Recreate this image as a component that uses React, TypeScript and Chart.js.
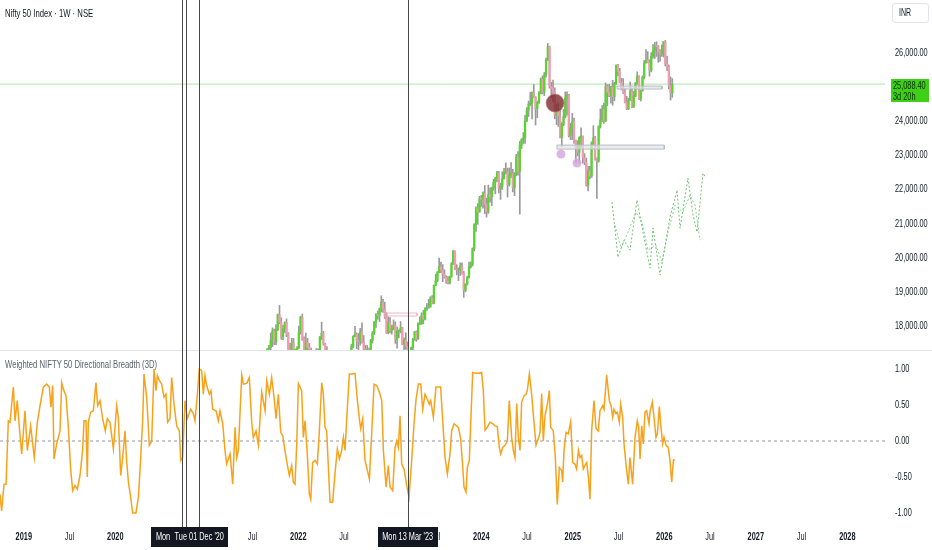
import { useEffect, useRef } from "react";
import { Chart, registerables } from "chart.js";
Chart.register(...registerables);

const FONT = "'Liberation Sans', Arial, sans-serif";
const NARROW = 0.7;

// x domain (fractional years)
const X_MIN = 2018.74;
const X_MAX = 2028.412;

// ---- Weekly candles (Nifty 50), first week starts Mon 23 Aug 2021 ----
const FIRST_WEEK = Date.UTC(2021, 7, 23);
const firstOpen = 16450;
const closes2021 = [16705, 17324, 17369, 17585, 17853, 17532, 17895, 18339, 18115, 17672, 17917, 18102, 17765, 17026, 17197, 17511, 16985, 17003, 17354];
const highs2021 = [16722, 17340, 17436, 17793, 17947, 17912, 18042, 18350, 18604, 18242, 18022, 18123, 18210, 17806, 17490, 17640, 17639, 17119, 17400];
const lows2021 = [16395, 16700, 17254, 17270, 17397, 17452, 17452, 17865, 18065, 17613, 17600, 17807, 17688, 16985, 16782, 17150, 16966, 16410, 16880];

const closes2022 = [17813, 18256, 17617, 17102, 17516, 17375, 17276, 16658, 16245, 16630, 17287, 17153, 17670, 17784, 17476, 17172, 17102, 16411, 15782, 16266, 16352, 16584, 16202, 15293, 15699, 15752, 16220, 16049, 16719, 17158, 17398, 17698, 17758, 17559, 17539, 17833, 17531, 17327, 17094, 17315, 17186, 17576, 17787, 18117, 18350, 18308, 18512, 18697, 18497, 18269, 17807, 18105];
const highs2022 = [18000, 18286, 18350, 17680, 17794, 17640, 17490, 17350, 16810, 16760, 17340, 17330, 17700, 18114, 17840, 17500, 17400, 17130, 16460, 16400, 16420, 16800, 16650, 16240, 15710, 15930, 16280, 16250, 16750, 17170, 17470, 17720, 17990, 17800, 17780, 17930, 18096, 17720, 17430, 17430, 17350, 17610, 17840, 18130, 18360, 18440, 18530, 18887, 18780, 18700, 18390, 18270];
const lows2022 = [17340, 17760, 17580, 16840, 17050, 16810, 16840, 16200, 15900, 15670, 16560, 16840, 17000, 17600, 17440, 16920, 16890, 16340, 15740, 15730, 15900, 16300, 16170, 15180, 15190, 15510, 15660, 15860, 16000, 16440, 17150, 17360, 17690, 17340, 17170, 17440, 17500, 17290, 16750, 16860, 16950, 17120, 17500, 17750, 17960, 18200, 18130, 18410, 18400, 18220, 17780, 17770];

const closes2023 = [17859, 17956, 18028, 17604, 17854, 17856, 17944, 17466, 17594, 17413, 17100, 16945, 17360, 17600, 17828, 17624, 18065, 18069, 18315, 18203, 18499, 18534, 18563, 18826, 18665, 19189, 19332, 19565, 19745, 19646, 19517, 19428, 19310, 19266, 19435, 19820, 20192, 19674, 19638, 19654, 19751, 19543, 19047, 19231, 19425, 19732, 19795, 20268, 20970, 21457, 21349, 21731];
const highs2023 = [18250, 18020, 18180, 18120, 17970, 17880, 18130, 17960, 17650, 17800, 17530, 17210, 17380, 17640, 17840, 17860, 18090, 18270, 18390, 18460, 18540, 18660, 18780, 18860, 18890, 19200, 19520, 19600, 19990, 19870, 19800, 19650, 19470, 19450, 19460, 19860, 20220, 20200, 19800, 19700, 19850, 19850, 19600, 19240, 19460, 19870, 19880, 20290, 21000, 21490, 21590, 21800];
const lows2023 = [17800, 17760, 17890, 17490, 17350, 17660, 17800, 17450, 17250, 17320, 16850, 16830, 16830, 17310, 17580, 17550, 17610, 18040, 18050, 18060, 18180, 18460, 18520, 18550, 18650, 18650, 19180, 19300, 19560, 19560, 19300, 19400, 19250, 19230, 19230, 19430, 19800, 19650, 19500, 19330, 19480, 19520, 18840, 19000, 19200, 19400, 19700, 19760, 20200, 20770, 20980, 21330];

const closes2024 = [21711, 21895, 21572, 21353, 21854, 21783, 22041, 22213, 22339, 22494, 22023, 22097, 22327, 22514, 22519, 22147, 22420, 22476, 22055, 22467, 22957, 22531, 23290, 23466, 23501, 24011, 24324, 24502, 24531, 24835, 24718, 24367, 24541, 24823, 25236, 24852, 25357, 25791, 26179, 25015, 24964, 24854, 24181, 24304, 24148, 23533, 23907, 24131, 24677, 24768, 23588, 23813];
const highs2024 = [21830, 21930, 22120, 21750, 22130, 22050, 22070, 22300, 22350, 22530, 22530, 22180, 22520, 22620, 22780, 22630, 22630, 22790, 22590, 22500, 23030, 23110, 23410, 23490, 23670, 24170, 24400, 24590, 24850, 24860, 25080, 24720, 24590, 24870, 25270, 25330, 25430, 25850, 26280, 26200, 25140, 25210, 24980, 24500, 24540, 24340, 23960, 24350, 24860, 24860, 24790, 23940];
const lows2024 = [21500, 21450, 21290, 21190, 21300, 21630, 21530, 21980, 21870, 22230, 21900, 21710, 22000, 22300, 22450, 21780, 22100, 22350, 21930, 21820, 22400, 22420, 21280, 23200, 23350, 23350, 23990, 24140, 24460, 24070, 24700, 23890, 24100, 24520, 24800, 24800, 24750, 25290, 25780, 24970, 24690, 24570, 24070, 23900, 23850, 23510, 23260, 23870, 24100, 24180, 23540, 23460];

const closes2025 = [24005, 23432, 23203, 23092, 23508, 23560, 22929, 22796, 22125, 22553, 22397, 23350, 23519, 22904, 22829, 23852, 24039, 24347, 24008, 25020, 24853, 24751, 25003, 24718, 25112, 25637, 25461, 25150, 24968, 24837, 24565, 24363, 24631, 24870, 24427, 24741, 25114, 25327, 24655, 24894, 25285, 25710, 25795, 25722, 25492, 25910, 26068, 26203, 26186, 26047, 25966, 26042];
const highs2025 = [24230, 24090, 23450, 23430, 23550, 23810, 23570, 23050, 22920, 22680, 22680, 23400, 23870, 23560, 22930, 23870, 24360, 24460, 24530, 25120, 25070, 25080, 25030, 25200, 25140, 25650, 25670, 25550, 25260, 25250, 24960, 24730, 24680, 25150, 24980, 24880, 25140, 25450, 25330, 24910, 25330, 25780, 26100, 26040, 25800, 26010, 26250, 26310, 26330, 26220, 26100, 26240];
const lows2025 = [23460, 23350, 22790, 22980, 22790, 23220, 22770, 22720, 22100, 21960, 22310, 22350, 23300, 22860, 21740, 22800, 23800, 23990, 23940, 23990, 24460, 24720, 24530, 24470, 24600, 25080, 25330, 25130, 24920, 24810, 24540, 24340, 24340, 24600, 24400, 24400, 24720, 25080, 24630, 24590, 24880, 25240, 25700, 25710, 25320, 25450, 25850, 25840, 25900, 25730, 25750, 25900];

const closes2026 = [26330, 25680, 25590, 25050, 24830, 25088];
const highs2026 = [26340, 26370, 25900, 25650, 25300, 25250];
const lows2026 = [25880, 25620, 25480, 24950, 24620, 24700];

const LAST_PRICE = 25088.4;

// ---- Weighted breadth oscillator [fractional year, value] ----
const breadth2019_21: [number, number][] = [[2018.740,-0.74],[2018.758,-0.97],[2018.784,-0.60],[2018.806,-0.60],[2018.831,0.28],[2018.849,0.26],[2018.886,0.75],[2018.904,0.28],[2018.929,0.56],[2018.951,0.19],[2018.977,-0.18],[2019.013,0.42],[2019.039,-0.13],[2019.075,0.21],[2019.115,-0.23],[2019.148,0.26],[2019.184,0.54],[2019.214,0.75],[2019.250,0.79],[2019.279,0.75],[2019.297,0.47],[2019.316,0.77],[2019.330,-0.25],[2019.359,-0.04],[2019.396,0.14],[2019.414,0.81],[2019.432,0.72],[2019.461,0.63],[2019.487,0.19],[2019.512,-0.39],[2019.534,-0.69],[2019.560,-0.62],[2019.585,-0.67],[2019.614,-0.48],[2019.643,-0.13],[2019.658,0.28],[2019.680,0.28],[2019.694,-0.50],[2019.705,0.26],[2019.731,0.40],[2019.760,0.42],[2019.789,0.81],[2019.807,0.49],[2019.833,0.56],[2019.862,0.31],[2019.891,0.14],[2019.913,0.31],[2019.942,0.26],[2019.979,-0.11],[2020.015,0.49],[2020.033,0.33],[2020.059,-0.48],[2020.081,-0.23],[2020.106,0.14],[2020.124,-0.27],[2020.143,-0.57],[2020.168,-0.78],[2020.190,-1.00],[2020.226,-1.00],[2020.252,-0.78],[2020.270,-0.41],[2020.299,0.28],[2020.314,0.93],[2020.343,0.61],[2020.372,-0.06],[2020.398,0.00],[2020.423,1.00],[2020.445,0.70],[2020.460,0.91],[2020.481,0.84],[2020.507,0.79],[2020.532,0.61],[2020.554,0.65],[2020.572,0.26],[2020.598,0.31],[2020.616,0.88],[2020.642,0.51],[2020.671,0.21],[2020.700,0.14],[2020.715,-0.27],[2020.736,-0.23],[2020.762,0.56],[2020.787,0.31],[2020.824,0.44],[2020.853,0.38],[2020.871,0.28],[2020.897,0.65],[2020.918,1.00],[2020.944,0.98],[2020.962,0.65],[2020.980,0.91],[2020.999,0.77],[2021.028,0.65],[2021.046,0.70],[2021.064,0.44],[2021.101,0.42],[2021.126,0.28],[2021.144,0.42],[2021.174,0.24],[2021.199,-0.13],[2021.217,-0.32],[2021.254,-0.18],[2021.283,-0.60]];
const breadth2021_23: [number, number][] = [[2021.309,0.19],[2021.327,-0.23],[2021.345,-0.13],[2021.382,0.92],[2021.400,0.79],[2021.436,0.80],[2021.465,0.88],[2021.491,0.26],[2021.509,0.05],[2021.538,0.14],[2021.564,-0.06],[2021.600,0.68],[2021.637,0.42],[2021.655,0.84],[2021.684,0.65],[2021.709,0.88],[2021.735,0.61],[2021.757,0.31],[2021.782,0.65],[2021.808,0.12],[2021.830,0.07],[2021.866,-0.23],[2021.902,-0.48],[2021.928,-0.34],[2021.946,-0.57],[2021.964,-0.60],[2021.983,-0.04],[2022.001,0.80],[2022.037,0.70],[2022.055,0.05],[2022.074,0.28],[2022.099,-0.20],[2022.121,-0.74],[2022.136,-0.81],[2022.157,-0.30],[2022.183,-0.27],[2022.208,-0.32],[2022.230,0.14],[2022.256,0.81],[2022.274,0.65],[2022.292,0.19],[2022.310,0.14],[2022.347,-0.85],[2022.376,-0.85],[2022.402,-0.44],[2022.427,-0.11],[2022.449,-0.25],[2022.474,-0.13],[2022.493,0.05],[2022.511,-0.13],[2022.529,0.31],[2022.558,0.93],[2022.584,0.93],[2022.620,0.94],[2022.646,0.56],[2022.667,0.31],[2022.682,0.17],[2022.704,0.31],[2022.729,-0.27],[2022.748,-0.37],[2022.777,-0.53],[2022.802,0.10],[2022.828,0.79],[2022.857,0.77],[2022.886,0.68],[2022.912,0.56],[2022.930,-0.13],[2022.959,-0.64],[2022.984,-0.34],[2023.003,-0.64],[2023.032,-0.69],[2023.057,-0.09],[2023.076,0.00],[2023.094,-0.09],[2023.112,0.35],[2023.130,-0.32],[2023.156,-0.39],[2023.185,-0.62],[2023.210,-0.78],[2023.239,-0.27],[2023.265,0.24],[2023.287,0.58],[2023.312,0.79],[2023.338,0.79],[2023.360,0.44],[2023.385,0.65],[2023.411,0.58],[2023.433,0.51],[2023.447,0.56],[2023.476,0.33],[2023.505,0.75],[2023.542,0.75],[2023.556,0.75],[2023.585,0.14],[2023.604,-0.23],[2023.629,-0.46],[2023.658,-0.18]];
const breadth2023_26: [number, number][] = [[2023.676,0.14],[2023.702,0.24],[2023.749,0.19],[2023.775,0.03],[2023.796,-0.34],[2023.811,-0.64],[2023.833,-0.71],[2023.847,-0.37],[2023.869,-0.27],[2023.884,0.24],[2023.906,0.95],[2023.942,0.94],[2023.979,0.94],[2024.004,0.95],[2024.022,0.70],[2024.041,0.15],[2024.066,0.19],[2024.095,0.26],[2024.124,0.24],[2024.150,0.21],[2024.175,0.20],[2024.197,-0.09],[2024.212,-0.18],[2024.234,-0.09],[2024.259,-0.06],[2024.285,0.00],[2024.306,0.56],[2024.332,0.05],[2024.350,-0.13],[2024.368,-0.23],[2024.387,0.52],[2024.405,0.05],[2024.423,-0.13],[2024.441,0.54],[2024.467,0.63],[2024.489,0.65],[2024.503,0.70],[2024.525,0.93],[2024.550,0.65],[2024.576,0.26],[2024.598,-0.06],[2024.623,0.03],[2024.642,0.12],[2024.660,0.66],[2024.678,0.00],[2024.696,0.35],[2024.722,0.51],[2024.744,0.70],[2024.758,0.19],[2024.787,0.14],[2024.809,-0.23],[2024.831,-0.88],[2024.853,-0.37],[2024.878,-0.41],[2024.889,-0.57],[2024.904,-0.13],[2024.926,0.12],[2024.951,0.10],[2024.977,0.27],[2024.999,-0.30],[2025.024,-0.32],[2025.042,-0.39],[2025.061,-0.13],[2025.079,-0.23],[2025.097,-0.20],[2025.115,-0.39],[2025.133,-0.34],[2025.152,-0.30],[2025.170,-0.50],[2025.188,-0.81],[2025.206,0.14],[2025.232,0.56],[2025.254,0.17],[2025.279,0.14],[2025.297,0.42],[2025.327,0.49],[2025.341,0.44],[2025.370,0.92],[2025.399,0.56],[2025.418,0.49],[2025.436,0.33],[2025.450,0.44],[2025.472,0.38],[2025.487,0.40],[2025.509,0.26],[2025.523,0.51],[2025.545,0.33],[2025.560,-0.04],[2025.581,-0.32],[2025.607,-0.60],[2025.625,-0.23],[2025.654,-0.60],[2025.680,0.05],[2025.705,0.28],[2025.720,0.19],[2025.735,-0.25],[2025.753,0.21],[2025.771,-0.04],[2025.789,0.40],[2025.807,0.42],[2025.833,0.24],[2025.844,0.40],[2025.869,0.54],[2025.888,0.33],[2025.909,0.05],[2025.924,0.10],[2025.946,0.48],[2025.960,0.24],[2025.982,-0.04],[2025.997,0.05],[2026.019,-0.06],[2026.044,-0.09],[2026.062,-0.27],[2026.081,-0.57],[2026.099,-0.27],[2026.106,-0.25]];

// ---- Drawing annotations ----
const projectionA: [number, number][] = [[2025.428,21630],[2025.494,20017],[2025.560,20515],[2025.625,20222],[2025.702,21689],[2025.767,20750],[2025.844,19694],[2025.877,20867],[2025.953,19489],[2026.062,21190],[2026.139,21982],[2026.172,20867],[2026.259,22334],[2026.314,21249],[2026.358,20750],[2026.423,22480],[2026.456,22334]];
const projectionB: [number, number][] = [[2025.461,20955],[2025.527,20281],[2025.603,20750],[2025.691,21337],[2025.756,21044],[2025.822,20222],[2025.909,20369],[2025.975,19870],[2026.041,20750],[2026.117,21542],[2026.204,21337],[2026.281,21835],[2026.336,21542],[2026.390,20515]];
const zoneBoxes: { x0: number; x1: number; y0: number; y1: number; stroke: string; fill: string }[] = [
  { x0: 2024.827, x1: 2026.0, y0: 23184, y1: 23302, stroke: "#b9bcc4", fill: "rgba(225,227,232,0.7)" },
  { x0: 2025.483, x1: 2025.975, y0: 24944, y1: 25032, stroke: "#b9bcc4", fill: "rgba(225,227,232,0.7)" },
  { x0: 2022.970, x1: 2023.297, y0: 18293, y1: 18381, stroke: "#f2b6c4", fill: "rgba(255,255,255,0)" },
];
const bigMarker: [number, number][] = [[2024.806, 24534]];
const smallMarkers: [number, number][] = [[2024.871, 23038], [2025.046, 22774]];

const VLINES = [2020.724, 2020.773, 2020.918, 2023.195];
const VLABELS: [number, string][] = [[2020.724, "Mon 21 Sep '20"], [2020.918, "Tue 01 Dec '20"], [2023.195, "Mon 13 Mar '23"]];

const PRICE_TICKS = [18000, 19000, 20000, 21000, 22000, 23000, 24000, 26000];
const BREADTH_TICKS = [-1, -0.5, 0, 0.5, 1];
const TIME_TICKS = [2019, 2019.5, 2020, 2020.5, 2021, 2021.5, 2022, 2022.5, 2023, 2023.5, 2024, 2024.5, 2025, 2025.5, 2026, 2026.5, 2027, 2027.5, 2028];

function toYear(ms: number) {
  const y = new Date(ms).getUTCFullYear();
  const s = Date.UTC(y, 0, 1);
  const e = Date.UTC(y + 1, 0, 1);
  return y + (ms - s) / (e - s);
}

const closes = [...closes2021, ...closes2022, ...closes2023, ...closes2024, ...closes2025, ...closes2026];
const highs = [...highs2021, ...highs2022, ...highs2023, ...highs2024, ...highs2025, ...highs2026];
const lows = [...lows2021, ...lows2022, ...lows2023, ...lows2024, ...lows2025, ...lows2026];
const opens = closes.map((_, i) => (i === 0 ? firstOpen : closes[i - 1]));
const weekX = closes.map((_, i) => toYear(FIRST_WEEK + i * 7 * 86400000));

const UP = "#55d62c";
const DOWN = "#f39bb0";
const WICK = "#9a9a9a";

const fmtPrice = (v: number) => v.toLocaleString("en-US", { minimumFractionDigits: 2, maximumFractionDigits: 2 });
const fmtBreadth = (v: number) => v.toFixed(2);
const fmtTime = (v: number) => (Number.isInteger(v) ? String(v) : "Jul");

function narrowText(ctx: CanvasRenderingContext2D, text: string, x: number, y: number, align: CanvasTextAlign, font: string, color: string) {
  ctx.save();
  ctx.font = font;
  ctx.fillStyle = color;
  ctx.textAlign = align;
  ctx.textBaseline = "middle";
  ctx.translate(x, y);
  ctx.scale(NARROW, 1);
  ctx.fillText(text, 0, 0);
  ctx.restore();
}

const panelPlugin = (bottomPanel: boolean, fmtY: (v: number) => string) => ({
  id: "panel" + (bottomPanel ? "B" : "T"),
  afterDraw(chart: any) {
    const { ctx, chartArea, scales } = chart;
    const xs = scales.x;
    const ys = scales.y;
    ctx.save();
    if (bottomPanel) {
      ctx.strokeStyle = "#e0e3eb";
      ctx.lineWidth = 1;
      ctx.beginPath();
      ctx.moveTo(0, 0.5);
      ctx.lineTo(chart.width, 0.5);
      ctx.stroke();
    }
    // y tick labels from the library's scale
    ys.ticks.forEach((t: any) => {
      narrowText(ctx, fmtY(t.value), chartArea.right + 10, ys.getPixelForValue(t.value), "left", `10.5px ${FONT}`, "#131722");
    });
    if (bottomPanel) {
      xs.ticks.forEach((t: any) => {
        const bold = Number.isInteger(t.value);
        narrowText(ctx, fmtTime(t.value), xs.getPixelForValue(t.value), chartArea.bottom + 13.5, "center", `${bold ? "bold " : ""}10.5px ${FONT}`, "#131722");
      });
    }
    ctx.strokeStyle = "#4a4a4a";
    ctx.lineWidth = 1;
    const yEnd = bottomPanel ? chartArea.bottom + 3 : chart.height;
    VLINES.forEach((t) => {
      const px = Math.round(xs.getPixelForValue(t)) + 0.5;
      ctx.beginPath();
      ctx.moveTo(px, 0);
      ctx.lineTo(px, yEnd);
      ctx.stroke();
    });
    if (bottomPanel) {
      ctx.font = `10.5px ${FONT}`;
      VLABELS.forEach(([t, txt]) => {
        const px = xs.getPixelForValue(t);
        const w = ctx.measureText(txt).width * NARROW + 9;
        ctx.fillStyle = "#131722";
        ctx.fillRect(Math.round(px - w / 2), chartArea.bottom + 3, Math.round(w), 20);
        narrowText(ctx, txt, px, chartArea.bottom + 13.5, "center", `10.5px ${FONT}`, "#ffffff");
      });
    }
    ctx.restore();
  },
});

function fixY(width: number) {
  return (s: any) => {
    s.width = width;
    s.paddingTop = 0;
    s.paddingBottom = 0;
  };
}

export default function App() {
  const topRef = useRef<HTMLCanvasElement>(null);
  const botRef = useRef<HTMLCanvasElement>(null);

  useEffect(() => {
    const wickData = weekX.map((x, i) => ({ x, y: [Math.min(lows[i], opens[i], closes[i]), Math.max(highs[i], opens[i], closes[i])] }));
    const bodyData = weekX.map((x, i) => ({ x, y: [opens[i], closes[i]] }));
    const bodyColors = closes.map((c, i) => (c >= opens[i] ? UP : DOWN));

    const boxDatasets = zoneBoxes.map((b) => ({
      type: "line" as const,
      data: [
        { x: b.x0, y: b.y1 },
        { x: b.x1, y: b.y1 },
        { x: b.x1, y: b.y0 },
        { x: b.x0, y: b.y0 },
        { x: b.x0, y: b.y1 },
      ],
      borderColor: b.stroke,
      backgroundColor: b.fill,
      borderWidth: 1,
      pointRadius: 0,
      fill: "shape",
      tension: 0,
      order: 3,
    }));

    const top = new Chart(topRef.current!, {
      type: "bar",
      data: {
        datasets: [
          {
            type: "line",
            data: [{ x: X_MIN, y: LAST_PRICE }, { x: X_MAX, y: LAST_PRICE }],
            borderColor: "#b3e2ad",
            borderWidth: 1,
            pointRadius: 0,
            order: 10,
          } as any,
          { data: wickData, backgroundColor: WICK, barThickness: 1, grouped: false, order: 6 } as any,
          { data: bodyData, backgroundColor: bodyColors, barThickness: 1.6, grouped: false, minBarLength: 1, order: 5 } as any,
          ...boxDatasets,
          {
            type: "line",
            data: projectionA.map(([x, y]) => ({ x, y })),
            borderColor: "#6fbf72",
            borderWidth: 1,
            borderDash: [2, 2],
            pointRadius: 0,
            tension: 0,
            order: 4,
          } as any,
          {
            type: "line",
            data: projectionB.map(([x, y]) => ({ x, y })),
            borderColor: "#8ccf8e",
            borderWidth: 1,
            borderDash: [2, 2],
            pointRadius: 0,
            tension: 0,
            order: 4,
          } as any,
          {
            type: "scatter",
            data: smallMarkers.map(([x, y]) => ({ x, y })),
            backgroundColor: "rgba(214,160,222,0.8)",
            borderWidth: 0,
            pointRadius: 4.5,
            order: 2,
          } as any,
          {
            type: "scatter",
            data: bigMarker.map(([x, y]) => ({ x, y })),
            backgroundColor: "rgba(125,40,45,0.8)",
            borderColor: "rgba(200,120,120,0.6)",
            borderWidth: 1,
            pointRadius: 9,
            order: 1,
          } as any,
        ],
      },
      options: {
        animation: false,
        responsive: false,
        devicePixelRatio: 1,
        layout: { padding: 0, autoPadding: false },
        plugins: { legend: { display: false }, tooltip: { enabled: false } },
        scales: {
          x: { type: "linear", min: X_MIN, max: X_MAX, display: false, offset: false, grid: { display: false } },
          y: {
            position: "right",
            min: 17297,
            max: 27553,
            grid: { display: false, drawTicks: false },
            border: { display: false },
            afterFit: fixY(47),
            afterBuildTicks: (s: any) => {
              s.ticks = PRICE_TICKS.map((v) => ({ value: v }));
            },
            ticks: { display: false },
          },
        },
      } as any,
      plugins: [panelPlugin(false, fmtPrice)],
    });

    const oscData = [...breadth2019_21, ...breadth2021_23, ...breadth2023_26].map(([x, y]) => ({ x, y }));

    const bot = new Chart(botRef.current!, {
      type: "line",
      data: {
        datasets: [
          {
            data: [{ x: X_MIN, y: 0 }, { x: X_MAX, y: 0 }],
            borderColor: "#9598a1",
            borderWidth: 1,
            borderDash: [3, 3],
            pointRadius: 0,
            order: 2,
          },
          {
            data: oscData,
            borderColor: "#f7a21b",
            borderWidth: 1.5,
            pointRadius: 0,
            tension: 0,
            order: 1,
          },
        ],
      },
      options: {
        animation: false,
        responsive: false,
        devicePixelRatio: 1,
        layout: { padding: { top: 1, left: 0, right: 0, bottom: 0 }, autoPadding: false },
        plugins: { legend: { display: false }, tooltip: { enabled: false } },
        scales: {
          x: {
            type: "linear",
            min: X_MIN,
            max: X_MAX,
            offset: false,
            grid: { display: false, drawTicks: false },
            border: { display: false },
            afterFit: (s: any) => {
              s.height = 26;
              s.paddingLeft = 0;
              s.paddingRight = 0;
            },
            afterBuildTicks: (s: any) => {
              s.ticks = TIME_TICKS.map((v) => ({ value: v }));
            },
            ticks: { display: false, autoSkip: false },
          },
          y: {
            position: "right",
            min: -1.153,
            max: 1.25,
            grid: { display: false, drawTicks: false },
            border: { display: false },
            afterFit: fixY(47),
            afterBuildTicks: (s: any) => {
              s.ticks = BREADTH_TICKS.map((v) => ({ value: v }));
            },
            ticks: { display: false },
          },
        },
      } as any,
      plugins: [panelPlugin(true, fmtBreadth)],
    });

    return () => {
      top.destroy();
      bot.destroy();
    };
  }, []);

  const narrowStyle = { transform: `scaleX(${NARROW})`, transformOrigin: "left center", whiteSpace: "nowrap" as const };

  return (
    <div style={{ position: "fixed", left: 0, top: 0, width: 932, height: 550, background: "#ffffff", overflow: "hidden", fontFamily: FONT }}>
      <canvas ref={topRef} width={932} height={350} style={{ position: "absolute", left: 0, top: 0 }} />
      <canvas ref={botRef} width={932} height={200} style={{ position: "absolute", left: 0, top: 350 }} />
      <div style={{ position: "absolute", left: 5, top: 6, fontSize: 11, lineHeight: "14px", color: "#131722", pointerEvents: "none", ...narrowStyle }}>
        Nifty 50 Index · 1W · NSE
      </div>
      <div style={{ position: "absolute", left: 5, top: 357, fontSize: 11, lineHeight: "14px", color: "#5d606b", pointerEvents: "none", ...narrowStyle }}>
        Weighted NIFTY 50 Directional Breadth (3D)
      </div>
      <div style={{ position: "absolute", left: 892, top: 3, width: 35, height: 18, border: "1px solid #e0e3eb", borderRadius: 3, boxSizing: "content-box", pointerEvents: "none" }}>
        <div style={{ position: "absolute", left: 6, top: 0, fontSize: 10, lineHeight: "18px", color: "#131722", ...narrowStyle }}>INR</div>
      </div>
      <div style={{ position: "absolute", left: 891, top: 79, width: 38, height: 23, background: "#3ecf17", pointerEvents: "none" }}>
        <div style={{ position: "absolute", left: 2, top: 1, fontSize: 10.5, lineHeight: "11px", color: "#0b2a04", ...narrowStyle }}>25,088.40</div>
        <div style={{ position: "absolute", left: 2, top: 12, fontSize: 10.5, lineHeight: "11px", color: "#0b2a04", ...narrowStyle }}>3d 20h</div>
      </div>
    </div>
  );
}
